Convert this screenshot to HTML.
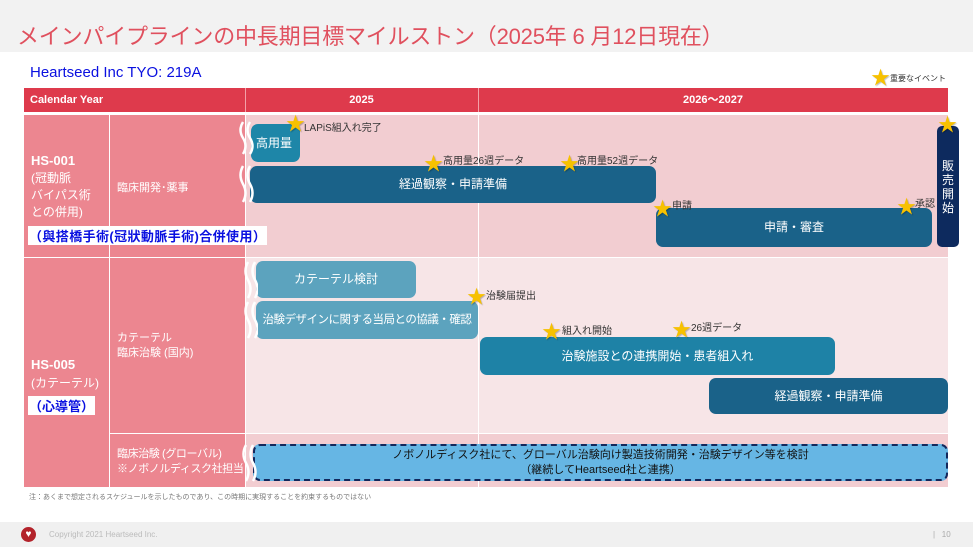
<!DOCTYPE html>
<html><head><meta charset="utf-8"><style>
*{margin:0;padding:0;box-sizing:border-box}
body{width:973px;height:547px;position:relative;overflow:hidden;background:#fff;font-family:"Liberation Sans","Noto Sans CJK JP",sans-serif}
.a{position:absolute}
.bar{position:absolute;color:#fff;font-size:12px;display:flex;align-items:center;justify-content:center;border-radius:7px;text-align:center;line-height:15px;white-space:nowrap}
.lbl{position:absolute;font-size:10px;color:#333;white-space:nowrap}
.st{position:absolute;color:#f7c100;font-size:19px;line-height:19px;text-shadow:1px 1px 1px rgba(0,0,0,.25)}
.w{color:#fff}
.hd{position:absolute;top:88px;height:24px;line-height:24px;font-size:11px;font-weight:bold;color:#fff}
</style></head><body>
<div class="a" style="left:0;top:0;width:973px;height:52px;background:#f2f2f2"></div>
<div class="a" style="left:17px;top:19px;font-size:22px;color:#e0505e;white-space:nowrap;letter-spacing:-0.2px">メインパイプラインの中長期目標マイルストン（2025年 6 月12日現在）</div>
<div class="a" style="left:30px;top:64px;font-size:15px;color:#0a10e0">Heartseed Inc TYO: 219A</div>
<div class="st" style="left:871px;top:69px">★</div>
<div class="lbl" style="left:890px;top:73px;font-size:8px">重要なイベント</div>
<!-- header -->
<div class="a" style="left:24px;top:88px;width:924px;height:24px;background:#de3a4c"></div>
<div class="a" style="left:245px;top:88px;width:1px;height:24px;background:#f3a0a8"></div>
<div class="a" style="left:478px;top:88px;width:1px;height:24px;background:#f3a0a8"></div>
<div class="hd" style="left:30px">Calendar Year</div>
<div class="hd" style="left:245px;width:233px;text-align:center">2025</div>
<div class="hd" style="left:478px;width:470px;text-align:center">2026～2027</div>
<!-- rows -->
<div class="a" style="left:24px;top:115px;width:221px;height:372px;background:#ec8690"></div>
<div class="a" style="left:245px;top:115px;width:703px;height:142px;background:#f2cdd1"></div>
<div class="a" style="left:245px;top:258px;width:703px;height:175px;background:#f7e5e7"></div>
<div class="a" style="left:245px;top:434px;width:703px;height:53px;background:#f2cdd1"></div>
<div class="a" style="left:24px;top:257px;width:924px;height:1px;background:#fff"></div>
<div class="a" style="left:109px;top:433px;width:839px;height:1px;background:#fff"></div>
<div class="a" style="left:109px;top:115px;width:1px;height:372px;background:#fff"></div>
<div class="a" style="left:245px;top:115px;width:1px;height:372px;background:#fff"></div>
<div class="a" style="left:478px;top:115px;width:1px;height:372px;background:#fff"></div>
<div class="a w" style="left:31px;top:153px;font-size:13px;font-weight:bold">HS-001</div>
<div class="a w" style="left:31px;top:170px;font-size:12px;line-height:17px">(冠動脈<br>バイパス術<br>との併用)</div>
<div class="a" style="left:28px;top:226px;font-size:13px;color:#0a10e0;background:#fff;font-weight:bold;padding:0 1px;white-space:nowrap;letter-spacing:0.4px">（與搭橋手術(冠狀動脈手術)合併使用）</div>
<div class="a w" style="left:117px;top:179px;font-size:11px">臨床開発･薬事</div>
<div class="a w" style="left:31px;top:357px;font-size:13px;font-weight:bold">HS-005</div>
<div class="a w" style="left:31px;top:374px;font-size:12px">(カテーテル)</div>
<div class="a" style="left:28px;top:396px;font-size:13px;color:#0a10e0;background:#fff;font-weight:bold;padding:0 1px">（心導管）</div>
<div class="a w" style="left:117px;top:331px;font-size:11px;line-height:15px">カテーテル<br>臨床治験 (国内)</div>
<div class="a w" style="left:117px;top:447px;font-size:11px;line-height:15px;white-space:nowrap;letter-spacing:-0.4px">臨床治験 (グローバル)<br>※ノボノルディスク社担当</div>
<!-- bars -->
<div class="bar" style="left:251px;top:124px;width:49px;height:38px;background:#1e86a8;justify-content:flex-start;padding-left:5px">高用量</div>
<div class="bar" style="left:250px;top:166px;width:406px;height:37px;background:#1a6289">経過観察・申請準備</div>
<div class="bar" style="left:656px;top:208px;width:276px;height:39px;background:#1a6289">申請・審査</div>
<div class="bar" style="left:937px;top:126px;width:22px;height:121px;background:#0d2a5e;border-radius:5px;font-size:12px;line-height:14px;padding:0 4px;white-space:normal">販売開始</div>
<div class="bar" style="left:256px;top:261px;width:160px;height:37px;background:#5ca3be">カテーテル検討</div>
<div class="bar" style="left:256px;top:301px;width:222px;height:38px;background:#5ca3be;font-size:11.5px;letter-spacing:-0.5px">治験デザインに関する当局との協議・確認</div>
<div class="bar" style="left:480px;top:337px;width:355px;height:38px;background:#1e82a6">治験施設との連携開始・患者組入れ</div>
<div class="bar" style="left:709px;top:378px;width:239px;height:36px;background:#1a6289">経過観察・申請準備</div>
<div class="bar" style="left:253px;top:444px;width:695px;height:37px;background:#66b6e4;border:2px dashed #13285c;color:#111;font-size:11px;line-height:15px">ノボノルディスク社にて、グローバル治験向け製造技術開発・治験デザイン等を検討<br>（継続してHeartseed社と連携）</div>
<!-- break marks -->
<svg class="a" style="left:236px;top:118px" width="22" height="370">
<g fill="none" stroke="#fff" stroke-width="2.5">
<path d="M7 4 q-5 8 0 16 q5 8 0 16"/><path d="M14 4 q-5 8 0 16 q5 8 0 16"/>
<path d="M7 48 q-5 9 0 18 q5 9 0 18"/><path d="M14 48 q-5 9 0 18 q5 9 0 18"/>
<path d="M12 144 q-5 9 0 18 q5 9 0 18"/><path d="M19 144 q-5 9 0 18 q5 9 0 18"/>
<path d="M12 184 q-5 9 0 18 q5 9 0 18"/><path d="M19 184 q-5 9 0 18 q5 9 0 18"/>
<path d="M10 327 q-5 9 0 18 q5 9 0 18"/><path d="M17 327 q-5 9 0 18 q5 9 0 18"/>
</g></svg>
<!-- stars -->
<div class="st" style="left:286px;top:115px">★</div><div class="lbl" style="left:304px;top:119px">LAPiS組入れ完了</div>
<div class="st" style="left:424px;top:155px">★</div><div class="lbl" style="left:443px;top:152px">高用量26週データ</div>
<div class="st" style="left:560px;top:155px">★</div><div class="lbl" style="left:577px;top:152px">高用量52週データ</div>
<div class="st" style="left:653px;top:200px">★</div><div class="lbl" style="left:672px;top:197px">申請</div>
<div class="st" style="left:897px;top:198px">★</div><div class="lbl" style="left:915px;top:195px">承認</div>
<div class="st" style="left:938px;top:116px">★</div>
<div class="st" style="left:467px;top:288px">★</div><div class="lbl" style="left:486px;top:287px">治験届提出</div>
<div class="st" style="left:542px;top:323px">★</div><div class="lbl" style="left:562px;top:322px">組入れ開始</div>
<div class="st" style="left:672px;top:321px">★</div><div class="lbl" style="left:691px;top:319px">26週データ</div>
<div class="a" style="left:29px;top:492px;font-size:7px;color:#777">注：あくまで想定されるスケジュールを示したものであり、この時期に実現することを約束するものではない</div>
<!-- footer -->
<div class="a" style="left:0;top:522px;width:973px;height:25px;background:#f0f0f0"></div>
<div class="a" style="left:21px;top:527px;width:15px;height:15px;border-radius:50%;background:#b3232b;color:#fff;font-size:10px;line-height:15px;text-align:center">♥</div>
<div class="a" style="left:49px;top:530px;font-size:8px;color:#bbb">Copyright 2021 Heartseed Inc.</div>
<div class="a" style="left:933px;top:530px;font-size:8px;color:#aaa">|&nbsp;&nbsp;&nbsp;10</div>
</body></html>
